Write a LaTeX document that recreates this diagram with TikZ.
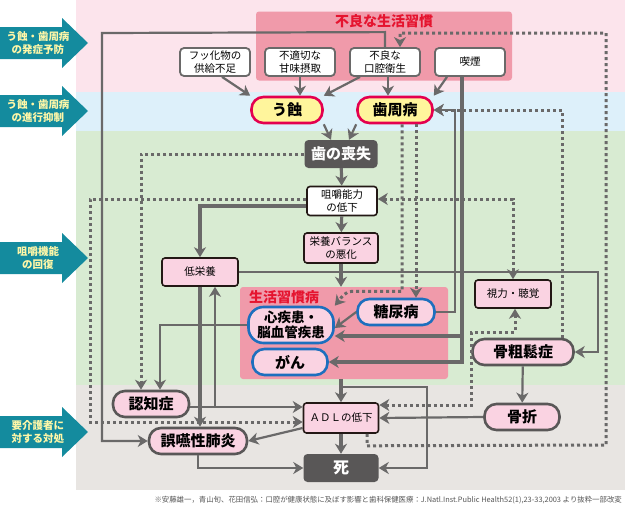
\documentclass[tikz,border=0pt]{standalone}
\usepackage{fontspec}
\setmainfont{Noto Sans CJK JP}
\usetikzlibrary{arrows.meta,positioning,calc}

\definecolor{BandPink}{HTML}{FCE4EC}
\definecolor{BandBlue}{HTML}{DDF0FA}
\definecolor{BandGreen}{HTML}{D8EBD2}
\definecolor{BandGray}{HTML}{E8E5E2}
\definecolor{HabitPink}{HTML}{F09AAA}
\definecolor{TitleRed}{HTML}{E5142F}
\definecolor{PillPink}{HTML}{FAD3E2}
\definecolor{CariesYellow}{HTML}{FFF59C}
\definecolor{Crimson}{HTML}{E4004F}
\definecolor{DiseaseBlue}{HTML}{1D6FBE}
\definecolor{DarkGray}{HTML}{595757}
\definecolor{LineGray}{HTML}{6A6969}
\definecolor{BoxBlack}{HTML}{231815}
\definecolor{Teal}{HTML}{148B9E}
\definecolor{Cream}{HTML}{FFF7A8}
\definecolor{NoteGray}{HTML}{555555}

\tikzset{
    % Base node style
    basenode/.style={
        align=center,
        inner sep=1pt,
        font=\fontsize{10.5}{12.5}\selectfont
    },
    % Causes inside the habit box
    habitbox/.style={
        basenode,
        draw=LineGray,
        fill=white,
        line width=1.8pt,
        rounded corners=4pt,
        minimum width=70pt,
        minimum height=28pt
    },
    % Caries and periodontal disease
    cariesnode/.style={
        basenode,
        draw=Crimson,
        fill=CariesYellow,
        line width=2.6pt,
        rounded corners=12pt,
        minimum height=26pt,
        font=\fontsize{15}{17}\selectfont\bfseries
    },
    % Dark boxes
    darknode/.style={
        basenode,
        fill=DarkGray,
        text=white,
        rounded corners=4pt,
        font=\fontsize{15}{17}\selectfont\bfseries
    },
    % Plain boxes
    rectnode/.style={
        basenode,
        draw=BoxBlack,
        fill=white,
        line width=1.6pt,
        rounded corners=3pt
    },
    pinkrect/.style={
        rectnode,
        fill=PillPink
    },
    % Lifestyle diseases
    diseasenode/.style={
        basenode,
        draw=DiseaseBlue,
        fill=PillPink,
        line width=2.6pt,
        rounded corners=12pt,
        minimum height=26pt,
        font=\fontsize{15}{17}\selectfont\bfseries
    },
    % Other conditions
    pillnode/.style={
        basenode,
        draw=DarkGray,
        fill=PillPink,
        line width=2.6pt,
        rounded corners=12pt,
        minimum height=26pt,
        font=\fontsize{15}{17}\selectfont\bfseries
    },
    % Group boxes
    groupbox/.style={
        fill=HabitPink,
        rounded corners=3pt
    },
    grouptitle/.style={
        text=TitleRed,
        inner sep=0pt,
        font=\fontsize{14}{16}\selectfont\bfseries
    },
    % Side labels
    sidelabel/.style={
        align=center,
        inner sep=0pt,
        text=Cream,
        font=\fontsize{10.5}{12.5}\selectfont\bfseries
    },
    % Arrow styles
    myarrow/.style={
        -{Stealth[length=10pt,width=12pt,inset=3pt]},
        line width=2.2pt,
        draw=LineGray
    },
    thickarrow/.style={
        myarrow,
        line width=3.2pt
    },
    dotarrow/.style={
        myarrow,
        line width=3pt,
        dash pattern=on 3pt off 3pt
    },
    bothtips/.style={
        {Stealth[length=10pt,width=12pt,inset=3pt]}-{Stealth[length=10pt,width=12pt,inset=3pt]}
    }
}

\begin{document}
\begin{tikzpicture}[x=1pt, y=-1pt]
    \useasboundingbox (0,0) rectangle (625,506);

    % Bands
    \fill[BandPink] (76,0) rectangle (625,92);
    \fill[BandBlue] (76,92) rectangle (625,131);
    \fill[BandGreen] (76,131) rectangle (625,385);
    \fill[BandGray] (76,385) rectangle (625,490);

    % Side arrows
    \foreach \cy/\txt/\nm in {43/{う蝕・歯周病\\の発症予防}/side1,
                              111/{う蝕・歯周病\\の進行抑制}/side2,
                              258/{咀嚼機能\\の回復}/side3,
                              432/{要介護者に\\対する対処}/side4} {
        \fill[Teal] (0,\cy-16) -- (62,\cy-16) -- (62,\cy-25) -- (88,\cy)
            -- (62,\cy+25) -- (62,\cy+16) -- (0,\cy+16) -- cycle;
        \node[sidelabel] (\nm) at (38,\cy) {\txt};
    }

    % Bad habits
    \node[groupbox, minimum width=256pt, minimum height=69pt] (habits) at (384,46) {};
    \node[grouptitle] (habitstitle) at (384,21) {不良な生活習慣};
    \node[habitbox] (fusso) at (215,62) {フッ化物の\\供給不足};
    \node[habitbox] (amami) at (300,62) {不適切な\\甘味摂取};
    \node[habitbox] (kokuu) at (385,62) {不良な\\口腔衛生};
    \node[habitbox] (kitsuen) at (470,62) {喫煙};

    % Oral diseases
    \node[cariesnode, minimum width=71pt] (ushoku) at (287,110) {う蝕};
    \node[cariesnode, minimum width=75pt] (shishu) at (395,110) {歯周病};
    \node[darknode, minimum width=73pt, minimum height=28pt] (hanoso) at (341,154) {歯の喪失};
    \node[rectnode, minimum width=70pt, minimum height=29pt] (soshaku) at (342,201) {咀嚼能力\\の低下};
    \node[pinkrect, minimum width=74pt, minimum height=30pt] (eiyo) at (341,248) {栄養バランス\\の悪化};
    \node[pinkrect, minimum width=76pt, minimum height=28pt] (teiei) at (200,272) {低栄養};

    % Lifestyle diseases
    \node[groupbox, minimum width=208pt, minimum height=92pt] (seikatsu) at (344,333) {};
    \node[grouptitle] (seikatsutitle) at (284,297) {生活習慣病};
    \node[diseasenode, minimum width=85pt, minimum height=36pt, rounded corners=15pt,
          font=\fontsize{13.5}{15}\selectfont\bfseries] (shinshi) at (291,325) {心疾患・\\脳血管疾患};
    \node[diseasenode, minimum width=75pt] (gan) at (290,362) {がん};
    \node[diseasenode, minimum width=77pt] (tonyo) at (396,312) {糖尿病};

    % Other conditions
    \node[pinkrect, minimum width=76pt, minimum height=28pt] (shiryoku) at (513,294) {視力・聴覚};
    \node[pillnode, minimum width=101pt] (kotsuso) at (523,352) {骨粗鬆症};
    \node[pillnode, minimum width=75pt] (kossetsu) at (522,417) {骨折};
    \node[pillnode, minimum width=76pt] (ninchi) at (151,404) {認知症};
    \node[pillnode, minimum width=98pt] (goen) at (198,441) {誤嚥性肺炎};
    \node[pinkrect, minimum width=75pt, minimum height=30pt] (adl) at (341,418) {ＡＤＬの低下};
    \node[darknode, minimum width=75pt, minimum height=28pt,
          font=\fontsize{16}{18}\selectfont\bfseries] (shi) at (341,468) {死};

    % Source
    \node[anchor=east, inner sep=0pt, text=NoteGray, font=\fontsize{7.4}{9}\selectfont] (source) at (622,500)
        {※安藤雄一，青山旬、花田信弘：口腔が健康状態に及ぼす影響と歯科保健医療：J.Natl.Inst.Public Health52(1),23-33,2003 より抜粋一部改変};

    % Dotted arrows
    \draw[dotarrow] ([xshift=26pt]adl.south) -- ++(0,12) -- (606,445) -- (606,33) -- (400,33) -- ([xshift=15pt]kokuu.north);
    \draw[dotarrow] ([xshift=39pt]kotsuso.north) |- (shishu.east);
    \draw[dotarrow] (hanoso.west) -| ([xshift=-10pt]ninchi.north);
    \draw[dotarrow] ([yshift=2pt]soshaku.west) -- ++(-216,0) |- ([yshift=-4pt]adl.west);
    \draw[dotarrow, bothtips] ([yshift=2pt]soshaku.east) -| (shiryoku.north);
    \draw[dotarrow] ([xshift=7pt]shishu.south) -- ++(0,167) -- ++(-49,0) to[out=180, in=50] (shinshi.north east);
    \draw[dotarrow] ([xshift=21pt]shishu.south) -- ([xshift=20pt]tonyo.north);
    \draw[dotarrow, bothtips] ([yshift=13pt]adl.east) -- ++(92,0) -- ++(0,-73) -| ([xshift=2pt]shiryoku.south);

    % Causes
    \draw[myarrow] (kokuu.north) -- ++(0,-15) -- (102,33) |- (goen.west);
    \draw[myarrow] ([xshift=7pt]fusso.south) -- (ushoku.north west);
    \draw[myarrow] (amami.south) -- (amami.south |- ushoku.north);
    \draw[myarrow] ([xshift=-25pt]kokuu.south) -- (ushoku.north east);
    \draw[myarrow] ([xshift=3pt]kokuu.south) -- ([xshift=3pt]kokuu.south |- shishu.north);
    \draw[myarrow] ([xshift=-23pt]kitsuen.south) -- (shishu.north east);
    \draw[thickarrow] ([xshift=-8pt]kitsuen.south) |- ([yshift=-11pt]shinshi.east);
    \draw[thickarrow] ([xshift=-8pt]kitsuen.south) |- (gan.east);
    \draw[myarrow] (tonyo.east) -- ++(19,0) |- (shishu.east);

    % Main chain
    \draw[myarrow] (ushoku.south east) -- ([xshift=-10pt]hanoso.north);
    \draw[myarrow] (shishu.south west) -- ([xshift=8pt]hanoso.north);
    \draw[thickarrow] (hanoso) -- (soshaku);
    \draw[thickarrow] (soshaku) -- (eiyo);
    \draw[thickarrow] (eiyo.south) -- (eiyo.south |- seikatsu.north);
    \draw[thickarrow] ([yshift=-5pt]soshaku.west) -| (teiei.north);
    \draw[myarrow] (teiei.east) -- ++(359,0) |- (kotsuso.east);
    \draw[myarrow] (tonyo.west) -- ([yshift=-3pt]shinshi.east);
    \draw[myarrow] (shinshi.west) -| ([xshift=9pt]ninchi.north);
    \draw[myarrow] ([yshift=-3pt]ninchi.east) -- ([yshift=11pt]adl.west);
    \draw[myarrow] ([yshift=-3pt]ninchi.east) -| ([xshift=15pt]teiei.south);
    \draw[thickarrow] (teiei.south) -- (teiei.south |- goen.north);
    \draw[thickarrow] (adl.north |- seikatsu.south) -- (adl.north);
    \draw[myarrow] (adl.north |- seikatsu.south) -- ++(0,8) -- ++(86,0) |- (shi.east);
    \draw[myarrow] ([yshift=-10pt]adl.west) -- (goen.east);
    \draw[myarrow] (goen.south) |- (shi.west);
    \draw[thickarrow] (adl) -- (shi);
    \draw[myarrow] (kotsuso) -- (kossetsu);
    \draw[myarrow] (kossetsu.west) -- (adl.east);
\end{tikzpicture}
\end{document}
